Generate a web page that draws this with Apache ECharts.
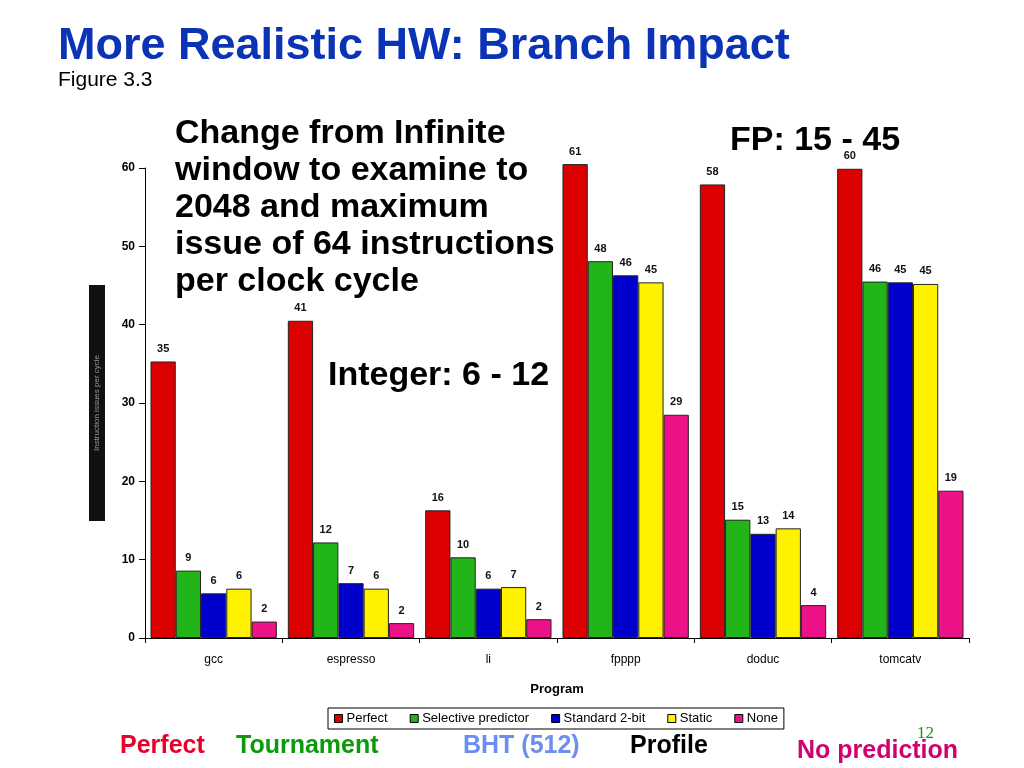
<!DOCTYPE html>
<html>
<head>
<meta charset="utf-8">
<script src="https://cdn.jsdelivr.net/npm/echarts@6/dist/echarts.min.js"></script>
<style>
html,body{margin:0;padding:0;background:#fff;}
#c{width:1024px;height:768px;}
</style>
</head>
<body>
<div id="c"></div>
<script>
const categories = ['gcc', 'espresso', 'li', 'fpppp', 'doduc', 'tomcatv'];
const seriesNames = ['Perfect', 'Selective predictor', 'Standard 2-bit', 'Static', 'None'];
const perfect    = [35.3, 40.5, 16.3, 60.5, 57.9, 59.9];
const selective  = [8.6, 12.2, 10.3, 48.1, 15.1, 45.5];
const standard2  = [5.7, 7.0, 6.3, 46.3, 13.3, 45.4];
const staticPred = [6.3, 6.3, 6.5, 45.4, 14.0, 45.2];
const nonePred   = [2.1, 1.9, 2.4, 28.5, 4.2, 18.8];
const perfectLbl   = [35, 41, 16, 61, 58, 60];
const selectiveLbl = [9, 12, 10, 48, 15, 46];
const standardLbl  = [6, 7, 6, 46, 13, 45];
const staticLbl    = [6, 6, 7, 45, 14, 45];
const noneLbl      = [2, 2, 2, 29, 4, 19];
const yTicks = [0, 10, 20, 30, 40, 50, 60];

const colors = ['#dd0000', '#22b51a', '#0000cc', '#fff200', '#ee1288'];
const values = [perfect, selective, standard2, staticPred, nonePred];
const labels = [perfectLbl, selectiveLbl, standardLbl, staticLbl, noneLbl];

const chart = echarts.init(document.getElementById('c'));
const F = 'Liberation Sans, Arial, sans-serif';

const series = values.map((v, i) => ({
  name: seriesNames[i],
  type: 'bar',
  data: v,
  clip: false,
  barGap: '0%',
  barCategoryGap: '8%',
  itemStyle: { color: colors[i], borderColor: '#222', borderWidth: 1 },
  label: {
    show: true, position: 'top', distance: 7,
    fontFamily: F, fontSize: 11, fontWeight: 'bold', color: '#111',
    formatter: p => labels[i][p.dataIndex]
  }
}));

chart.setOption({
  animation: false,
  backgroundColor: '#fff',
  textStyle: { fontFamily: F },
  grid: { left: 145, right: 55, top: 168, bottom: 130 },
  legend: {
    data: seriesNames,
    left: 328, top: 708,
    icon: 'rect', itemWidth: 8, itemHeight: 8, itemGap: 22,
    borderColor: '#000', borderWidth: 1, padding: [4, 6],
    itemStyle: { borderColor: '#000', borderWidth: 1 },
    textStyle: { fontFamily: F, fontSize: 13, color: '#000', padding: [0, 0, 0, -1] }
  },
  xAxis: {
    type: 'category', data: categories,
    name: 'Program', nameLocation: 'middle', nameGap: 45,
    nameTextStyle: { fontFamily: F, fontSize: 13, fontWeight: 'bold', color: '#000' },
    axisLine: { lineStyle: { color: '#000', width: 1 } },
    axisTick: { show: true, length: 5, lineStyle: { color: '#000' } },
    axisLabel: { fontFamily: F, fontSize: 12, color: '#000', margin: 16 }
  },
  yAxis: {
    type: 'value', min: 0, max: 60, interval: 10,
    name: 'Instruction issues per cycle', nameLocation: 'middle', nameGap: 40,
    nameRotate: 90,
    nameTextStyle: { fontFamily: F, fontSize: 8, color: '#999', backgroundColor: '#111', padding: [4, 70] },
    axisLine: { show: true, lineStyle: { color: '#000', width: 1 } },
    axisTick: { show: true, length: 6, lineStyle: { color: '#000' } },
    splitLine: { show: false },
    axisLabel: { fontFamily: F, fontSize: 12, fontWeight: 'bold', color: '#000', margin: 10,
      formatter: v => yTicks.includes(v) ? String(v) : '' }
  },
  graphic: [
    { type: 'text', left: 58, top: 24, style: { text: 'More Realistic HW: Branch Impact', font: 'bold 45px ' + F, fill: '#0a33b5' } },
    { type: 'text', left: 58, top: 70, style: { text: 'Figure 3.3', font: '21px ' + F, fill: '#000' } },
    { type: 'text', left: 175, top: 115, style: { text: 'Change from Infinite\nwindow to examine to\n2048 and maximum\nissue of 64 instructions\nper clock cycle', font: 'bold 34px ' + F, fill: '#000', lineHeight: 37 } },
    { type: 'text', left: 328, top: 359, style: { text: 'Integer: 6 - 12', font: 'bold 34px ' + F, fill: '#000' } },
    { type: 'text', left: 730, top: 124, style: { text: 'FP: 15 - 45', font: 'bold 34px ' + F, fill: '#000' } },
    { type: 'text', left: 120, top: 734, style: { text: 'Perfect', font: 'bold 25px ' + F, fill: '#e8002a' } },
    { type: 'text', left: 236, top: 734, style: { text: 'Tournament', font: 'bold 25px ' + F, fill: '#0a9a0a' } },
    { type: 'text', left: 463, top: 734, style: { text: 'BHT (512)', font: 'bold 25px ' + F, fill: '#6b8ff0' } },
    { type: 'text', left: 630, top: 734, style: { text: 'Profile', font: 'bold 25px ' + F, fill: '#000' } },
    { type: 'text', left: 797, top: 739, style: { text: 'No prediction', font: 'bold 25px ' + F, fill: '#d0006f' } },
    { type: 'text', left: 917, top: 725, style: { text: '12', font: '17px Liberation Serif, serif', fill: '#0a9a0a' } }
  ],
  series: series
});
</script>
</body>
</html>
